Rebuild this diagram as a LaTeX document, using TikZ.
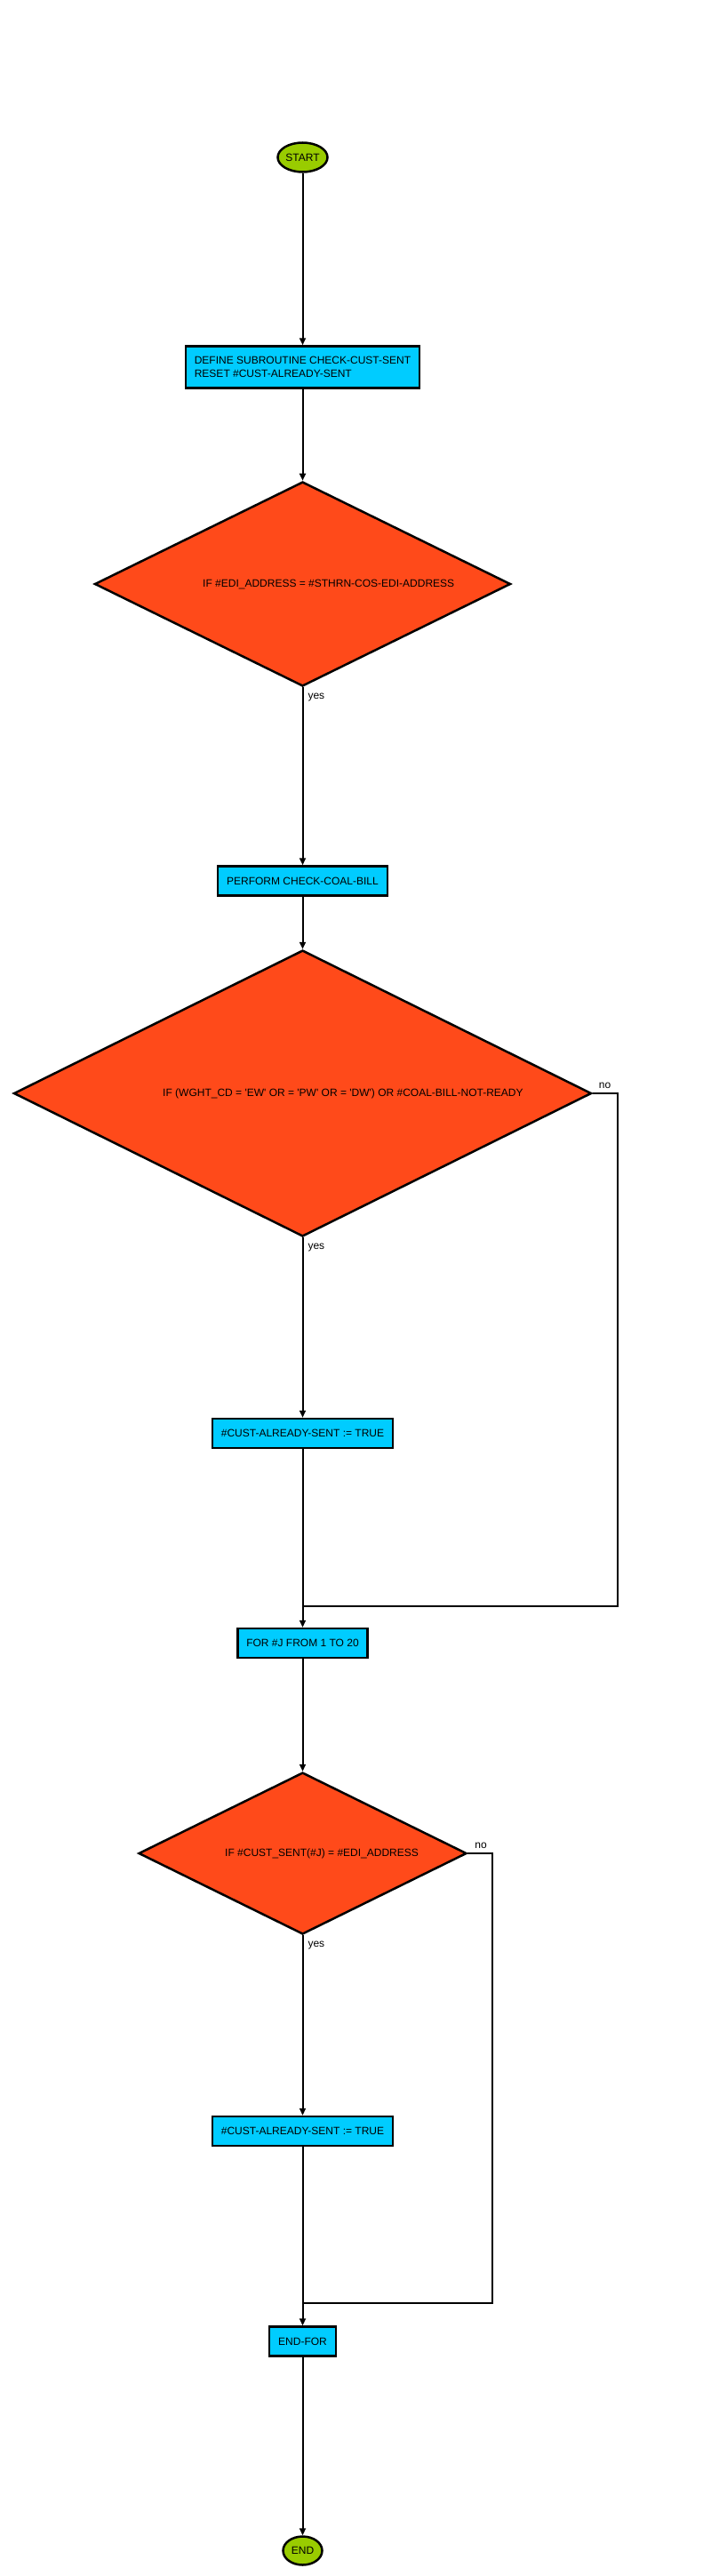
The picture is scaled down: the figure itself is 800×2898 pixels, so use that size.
\documentclass[tikz,border=0pt]{standalone}
\usepackage{fontspec}
\setmainfont{Liberation Sans}
\usetikzlibrary{shapes.geometric,arrows.meta}

\definecolor{verde}{HTML}{99CC00}
\definecolor{cian}{HTML}{00CCFF}
\definecolor{naranja}{HTML}{FF4A1A}

\tikzset{
    terminal/.style={ellipse,draw,line width=2.5pt,fill=verde,inner sep=0pt},
    proceso/.style={rectangle,draw,line width=2.5pt,fill=cian,inner xsep=10pt,minimum height=33pt},
    decision/.style={diamond,draw,line width=2.5pt,fill=naranja,inner sep=0pt},
    flecha/.style={line width=2pt,-{Triangle[length=8pt,width=7pt]}},
    linea/.style={line width=2pt},
    rotulo/.style={inner sep=0pt}
}

\begin{document}
\begin{tikzpicture}[x=1pt,y=-1pt,font=\fontsize{12}{15}\selectfont]
    \useasboundingbox (0,0) rectangle (800,2898);

    % inicio y subrutina
    \node[terminal,minimum width=56pt,minimum height=33pt] (start) at (340.5,177) {START};
    \node[proceso,align=left,minimum height=47pt] (define) at (340.5,413)
        {DEFINE SUBROUTINE CHECK-CUST-SENT\\RESET \#CUST-ALREADY-SENT};

    % primera pregunta
    \node[decision,minimum width=468pt,minimum height=230pt] (ifedi) at (340.5,657) {};
    \node[rotulo,anchor=west] (ifeditxt) at (228,657) {IF \#EDI\_ADDRESS = \#STHRN-COS-EDI-ADDRESS};
    \node[proceso] (perform) at (340.5,991) {PERFORM CHECK-COAL-BILL};

    % segunda pregunta
    \node[decision,minimum width=650pt,minimum height=322pt] (ifwght) at (340.5,1230) {};
    \node[rotulo,anchor=west] (ifwghttxt) at (183,1230)
        {IF (WGHT\_CD = \textquotesingle EW\textquotesingle\ OR = \textquotesingle PW\textquotesingle\ OR = \textquotesingle DW\textquotesingle) OR \#COAL-BILL-NOT-READY};
    \node[proceso] (sent1) at (340.5,1612.5) {\#CUST-ALREADY-SENT := TRUE};

    % bucle
    \node[proceso] (forj) at (340.5,1848.5) {FOR \#J FROM 1 TO 20};
    \node[decision,minimum width=369pt,minimum height=182pt] (ifcust) at (340.5,2085) {};
    \node[rotulo,anchor=west] (ifcusttxt) at (253,2085) {IF \#CUST\_SENT(\#J) = \#EDI\_ADDRESS};
    \node[proceso] (sent2) at (340.5,2397.5) {\#CUST-ALREADY-SENT := TRUE};
    \node[proceso] (endfor) at (340.5,2634) {END-FOR};
    \node[terminal,minimum width=44pt,minimum height=32pt] (end) at (340.5,2869.5) {END};

    % puntos de union
    \coordinate (join1) at (340.5,1807);
    \coordinate (join2) at (340.5,2591);

    % flechas
    \draw[flecha] (start) -- (define);
    \draw[flecha] (define) -- (ifedi);
    \draw[flecha] (ifedi) -- (perform)
        node[rotulo,pos=0,anchor=north west,xshift=5pt,yshift=-6pt] (yes1) {yes};
    \draw[flecha] (perform) -- (ifwght);
    \draw[flecha] (ifwght) -- (sent1)
        node[rotulo,pos=0,anchor=north west,xshift=5pt,yshift=-6pt] (yes2) {yes};
    \draw[linea] (ifwght.east) -- ++(28,0) |- (join1);
    \node[rotulo,anchor=south west,xshift=7pt,yshift=5pt] (no1) at (ifwght.east) {no};
    \draw[flecha] (sent1) -- (forj);
    \draw[flecha] (forj) -- (ifcust);
    \draw[flecha] (ifcust) -- (sent2)
        node[rotulo,pos=0,anchor=north west,xshift=5pt,yshift=-6pt] (yes3) {yes};
    \draw[linea] (ifcust.east) -- ++(28,0) |- (join2);
    \node[rotulo,anchor=south west,xshift=8pt,yshift=5pt] (no2) at (ifcust.east) {no};
    \draw[flecha] (sent2) -- (endfor);
    \draw[flecha] (endfor) -- (end);
\end{tikzpicture}
\end{document}
